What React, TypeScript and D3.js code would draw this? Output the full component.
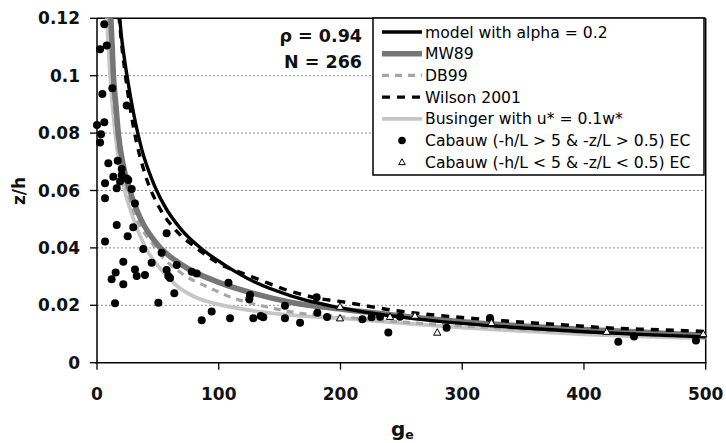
import React from "react";
import * as d3 from "d3";

// axis ticks
const xTicks = [0, 100, 200, 300, 400, 500];
const yTicks = [0, 0.02, 0.04, 0.06, 0.08, 0.1, 0.12];
const yTickLabels = ["0", "0.02", "0.04", "0.06", "0.08", "0.1", "0.12"];
const gridTicks = [0.02, 0.04, 0.06, 0.08, 0.1];

// curves as [ge, z/h]
const modelCurve: [number, number][] = [
  [18.5, 0.121], [20, 0.114], [22.5, 0.106], [25, 0.099], [30, 0.087], [37, 0.074],
  [45, 0.064], [55, 0.055], [70, 0.046], [88, 0.039], [105, 0.034], [130, 0.028],
  [160, 0.0232], [200, 0.0191], [250, 0.0159], [300, 0.0137], [350, 0.0121],
  [400, 0.0108], [450, 0.0098], [500, 0.009],
];
const mw89Curve: [number, number][] = [
  [11.3, 0.121], [12.5, 0.11], [13.5, 0.1], [15.5, 0.09], [17.5, 0.08], [21, 0.07],
  [27, 0.06], [36, 0.05], [50, 0.041], [70, 0.034], [100, 0.028], [130, 0.024],
  [160, 0.021], [200, 0.0187], [250, 0.0163], [300, 0.0143], [350, 0.0128],
  [400, 0.0116], [450, 0.0106], [500, 0.0096],
];
const db99Curve: [number, number][] = [
  [10.5, 0.121], [12.5, 0.1], [16, 0.08], [25, 0.06], [48, 0.04], [70, 0.031],
  [93, 0.026], [112, 0.0225], [140, 0.0194], [161, 0.0176], [200, 0.016],
  [250, 0.0142], [300, 0.0128], [350, 0.0116], [400, 0.0106], [450, 0.0097],
  [500, 0.0089],
];
const wilsonCurve: [number, number][] = [
  [18, 0.121], [20, 0.112], [25, 0.095], [30, 0.082], [40, 0.065], [50, 0.055],
  [65, 0.046], [80, 0.0405], [105, 0.0335], [117, 0.0316], [134, 0.0288],
  [156, 0.0253], [181, 0.0225], [205, 0.021], [241, 0.0184], [275, 0.0167],
  [304, 0.0156], [334, 0.0146], [361, 0.0138], [393, 0.0129], [421, 0.0121],
  [453, 0.0116], [500, 0.0109],
];
const busingerCurve: [number, number][] = [
  [8, 0.121], [10, 0.105], [13, 0.088], [17, 0.073], [21.4, 0.0626], [30, 0.05],
  [40, 0.04], [53, 0.0323], [65, 0.027], [80.5, 0.0229], [100, 0.0203],
  [130, 0.018], [160, 0.0166], [200, 0.0155], [250, 0.0138], [300, 0.0122],
  [350, 0.011], [400, 0.0099], [450, 0.0091], [500, 0.0085],
];

// Cabauw EC observations
const unstablePoints: [number, number][] = [
  [0, 0.0828], [2.5, 0.1092], [6, 0.1179], [8, 0.1105], [12.6, 0.0956], [4.4, 0.0936],
  [24.4, 0.0896], [6, 0.0838], [3.3, 0.0796], [2.5, 0.0767], [9.3, 0.0695],
  [17, 0.0704], [20.3, 0.0675], [13.4, 0.0648], [24.4, 0.0642], [18.9, 0.0631],
  [6.6, 0.0625], [16.2, 0.0608], [28.5, 0.0605], [20.3, 0.0654], [25.7, 0.0637],
  [6.6, 0.0573], [31.2, 0.0555], [16.2, 0.048], [29.8, 0.0472], [57.2, 0.0451],
  [6.6, 0.0422], [25.2, 0.0441], [38, 0.0396], [53.1, 0.0383], [21.6, 0.0352],
  [44.9, 0.0348], [31.2, 0.0325], [15.3, 0.0314], [32.6, 0.0302], [39.4, 0.0306],
  [12, 0.0291], [21.6, 0.0273], [57.2, 0.0323], [58.6, 0.0302], [60, 0.0295],
  [65.5, 0.034], [77.8, 0.0317], [81.9, 0.0311], [63.5, 0.0242], [14.8, 0.0207],
  [50.4, 0.0209], [94.2, 0.0178], [86, 0.0148], [109.3, 0.0155], [108, 0.0279],
  [125.7, 0.0236], [125.1, 0.0221], [128.4, 0.0155], [134.5, 0.0163],
  [136.6, 0.0158], [154.4, 0.0198], [154.4, 0.0155], [166.8, 0.0139],
  [180.4, 0.0228], [181, 0.0174], [189, 0.0159], [218, 0.0151], [225.6, 0.0158],
  [232.5, 0.016], [239.3, 0.0105], [248.9, 0.016], [287.2, 0.0122],
  [322.8, 0.0156], [428.2, 0.0073], [441.1, 0.0091], [492, 0.0077],
];
const stablePoints: [number, number][] = [
  [199.6, 0.0195], [199.6, 0.0155], [240.7, 0.016], [261.2, 0.0164],
  [279.5, 0.0105], [324, 0.0139], [418.7, 0.0108], [498, 0.01],
];

const legendLabels = [
  "model with alpha = 0.2",
  "MW89",
  "DB99",
  "Wilson 2001",
  "Businger with u* = 0.1w*",
  "Cabauw (-h/L > 5 & -z/L > 0.5) EC",
  "Cabauw (-h/L < 5 & -z/L < 0.5) EC",
];

const W = 726;
const H = 443;
const left = 97;
const right = 705.7;
const top = 18.3;
const bottom = 362.7;

const x = d3.scaleLinear().domain([0, 500]).range([left, right]);
const y = d3.scaleLinear().domain([0, 0.12]).range([bottom, top]);

const line = d3
  .line<[number, number]>()
  .x((d) => x(d[0]))
  .y((d) => y(d[1]))
  .curve(d3.curveMonotoneX);

const font = "'DejaVu Sans', Arial, sans-serif";

const styles = [
  { stroke: "#000", width: 3.4, dash: "" },
  { stroke: "#767676", width: 5.5, dash: "" },
  { stroke: "#a6a6a6", width: 3.2, dash: "7,6" },
  { stroke: "#000", width: 3.4, dash: "8,7" },
  { stroke: "#c6c6c6", width: 3.8, dash: "" },
];

function tri(cx: number, cy: number, s: number) {
  return `M${cx},${cy - s} L${cx + s * 0.95},${cy + s * 0.7} L${cx - s * 0.95},${cy + s * 0.7} Z`;
}

export default function App() {
  const legX = 373;
  const legY = 18;
  const legW = 331;
  const legH = 157;
  const rowY = (i: number) => 32 + i * 21.7;

  return (
    <svg
      width={W}
      height={H}
      style={{ position: "absolute", left: 0, top: 0, background: "#fff" }}
      fontFamily={font}
    >
      <defs>
        <clipPath id="plot">
          <rect x={left} y={top} width={right - left} height={bottom - top} />
        </clipPath>
      </defs>
      <rect x={0} y={0} width={W} height={H} fill="#fff" />

      {/* gridlines */}
      {gridTicks.map((t) => (
        <line
          key={t}
          x1={left}
          x2={right}
          y1={y(t)}
          y2={y(t)}
          stroke="#8c8c8c"
          strokeWidth={1}
          strokeDasharray="2,2"
        />
      ))}

      {/* plot frame */}
      <line x1={left} x2={right} y1={top} y2={top} stroke="#000" strokeWidth={1.5} />
      <line x1={right} x2={right} y1={top} y2={bottom} stroke="#000" strokeWidth={1.5} />

      {/* curves */}
      <g clipPath="url(#plot)" fill="none">
        <path d={line(busingerCurve) || ""} stroke={styles[4].stroke} strokeWidth={styles[4].width} />
        <path d={line(db99Curve) || ""} stroke={styles[2].stroke} strokeWidth={styles[2].width} strokeDasharray={styles[2].dash} />
        <path d={line(mw89Curve) || ""} stroke={styles[1].stroke} strokeWidth={styles[1].width} />
        <path d={line(modelCurve) || ""} stroke={styles[0].stroke} strokeWidth={styles[0].width} />
        <path d={line(wilsonCurve) || ""} stroke={styles[3].stroke} strokeWidth={styles[3].width} strokeDasharray={styles[3].dash} />
      </g>

      {/* observations */}
      <g>
        {unstablePoints.map((d, i) => (
          <circle key={i} cx={x(d[0])} cy={y(d[1])} r={4} fill="#000" />
        ))}
        {stablePoints.map((d, i) => (
          <path key={i} d={tri(x(d[0]), y(d[1]), 3.8)} fill="#fff" stroke="#000" strokeWidth={1} />
        ))}
      </g>

      {/* axes */}
      <line x1={left} x2={left} y1={top} y2={bottom} stroke="#000" strokeWidth={1.5} />
      <line x1={left - 2} x2={right + 1} y1={bottom} y2={bottom} stroke="#000" strokeWidth={1.5} />
      {yTicks.map((t, i) => (
        <g key={t}>
          <line x1={left - 7} x2={left} y1={y(t)} y2={y(t)} stroke="#000" strokeWidth={1.3} />
          <text
            x={80}
            y={y(t)}
            dy="0.36em"
            textAnchor="end"
            fontWeight="bold"
            fontSize={17}
            fill="#111"
          >
            {yTickLabels[i]}
          </text>
        </g>
      ))}
      {xTicks.map((t) => (
        <g key={t}>
          <line x1={x(t)} x2={x(t)} y1={bottom} y2={bottom + 7} stroke="#000" strokeWidth={1.3} />
          <text x={x(t)} y={399.5} textAnchor="middle" fontWeight="bold" fontSize={17} fill="#111">
            {t}
          </text>
        </g>
      ))}

      {/* axis titles */}
      <text
        transform="translate(25,191) rotate(-90)"
        textAnchor="middle"
        fontWeight="bold"
        fontSize={17}
        fill="#111"
      >
        z/h
      </text>
      <text x={391} y={436} fontWeight="bold" fontSize={20} fill="#111">
        g<tspan fontSize={12.5} dy={3}>e</tspan>
      </text>

      {/* stats */}
      <text x={362} y={41.5} textAnchor="end" fontWeight="bold" fontSize={17.5} fill="#111">
        ρ = 0.94
      </text>
      <text x={362} y={68} textAnchor="end" fontWeight="bold" fontSize={17.5} fill="#111">
        N = 266
      </text>

      {/* legend */}
      <g>
        <rect x={legX} y={legY} width={legW} height={legH} fill="#fff" stroke="#000" strokeWidth={1.5} />
        {styles.map((s, i) => (
          <line
            key={i}
            x1={382}
            x2={422}
            y1={rowY(i)}
            y2={rowY(i)}
            stroke={s.stroke}
            strokeWidth={s.width}
            strokeDasharray={s.dash}
          />
        ))}
        <circle cx={402} cy={rowY(5)} r={3.8} fill="#000" />
        <path d={tri(402, rowY(6), 3.5)} fill="#fff" stroke="#000" strokeWidth={1} />
        {legendLabels.map((l, i) => (
          <text key={l} x={425} y={rowY(i)} dy="0.36em" fontSize={15.6} fill="#000">
            {l}
          </text>
        ))}
      </g>
    </svg>
  );
}
